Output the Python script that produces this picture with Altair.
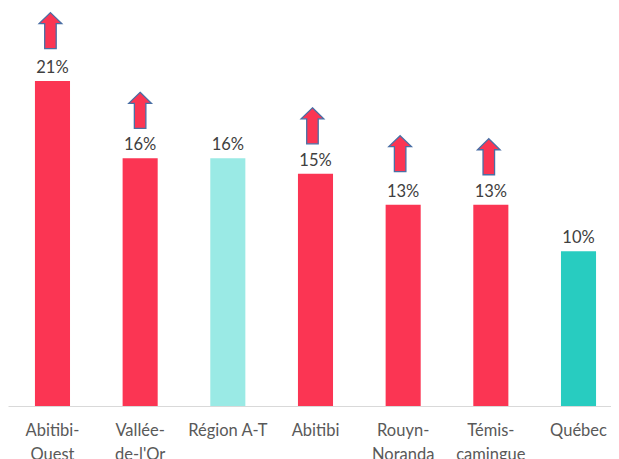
import altair as alt
import pandas as pd

regions = ["Abitibi-Ouest", "Vallée-de-l'Or", "Région A-T", "Abitibi", "Rouyn-Noranda", "Témiscamingue", "Québec"]
axis_labels = ["Abitibi-|Ouest", "Vallée-|de-l'Or", "Région A-T", "Abitibi", "Rouyn-|Noranda", "Témis-|camingue", "Québec"]
values = [21, 16, 16, 15, 13, 13, 10]
colors = ["#FB3553", "#FB3553", "#9AEAE5", "#FB3553", "#FB3553", "#FB3553", "#28CCC0"]
labels = ["21%", "16%", "16%", "15%", "13%", "13%", "10%"]

arrow_regions = ["Abitibi-Ouest", "Vallée-de-l'Or", "Abitibi", "Rouyn-Noranda", "Témiscamingue"]
arrow_levels = [24.25, 19.1, 18.1, 16.3, 16.1]
arrow_shift = [-2, 0, -3, -3, -2]

ARROW = "M0,-1 L0.63,-0.39 L0.32,-0.39 L0.32,1 L-0.32,1 L-0.32,-0.39 L-0.63,-0.39 Z"

df = pd.DataFrame({"region": regions, "tick": axis_labels, "value": values, "color": colors, "label": labels})
arrows = pd.DataFrame({"region": arrow_regions, "level": arrow_levels, "shift": arrow_shift})

label_map = dict(zip(regions, axis_labels))
label_expr = "split({" + ",".join(f'"{k}":"{v}"' for k, v in label_map.items()) + "}[datum.value],'|')"

x_scale = alt.Scale(paddingInner=0.6, paddingOuter=0.239, align=0.643)
y_scale = alt.Scale(domain=[0, 25.71], nice=False)

x = alt.X(
    "region:N",
    sort=regions,
    title=None,
    scale=x_scale,
    axis=alt.Axis(
        labelExpr=label_expr,
        labelAngle=0,
        labelFont="Lato",
        labelFontSize=16.5,
        labelColor="#595959",
        labelLineHeight=24,
        labelPadding=16,
        labelOverlap=False,
        labelLimit=0,
        ticks=False,
        grid=False,
        domainColor="#D9D9D9",
        domainWidth=1.2,
    ),
)
y = alt.Y("value:Q", scale=y_scale, axis=None)

bars = alt.Chart(df).mark_bar().encode(x=x, y=y, color=alt.Color("color:N", scale=None))
text = alt.Chart(df).mark_text(baseline="bottom", dy=-5, font="Lato", fontSize=16.5, color="#404040").encode(
    x=x, y=y, text="label:N"
)
arrow_marks = alt.Chart(arrows).transform_calculate(off="datum.shift + 17.5").mark_point(
    shape=ARROW, size=1296, filled=True, fill="#FB3553", stroke="#4A6FA5", strokeWidth=1.3, opacity=1
).encode(
    x=x,
    xOffset=alt.XOffset("off:Q", scale=None),
    y=alt.Y("level:Q", scale=y_scale, axis=None),
)

chart = alt.layer(bars, text, arrow_marks).properties(
    width=603, height=398, padding={"left": 0, "top": 0, "right": 0, "bottom": 53},
    autosize=alt.AutoSizeParams(type="none"),
).configure_view(stroke=None)

chart.save("out.html", embed_options={"renderer": "svg", "actions": False})
